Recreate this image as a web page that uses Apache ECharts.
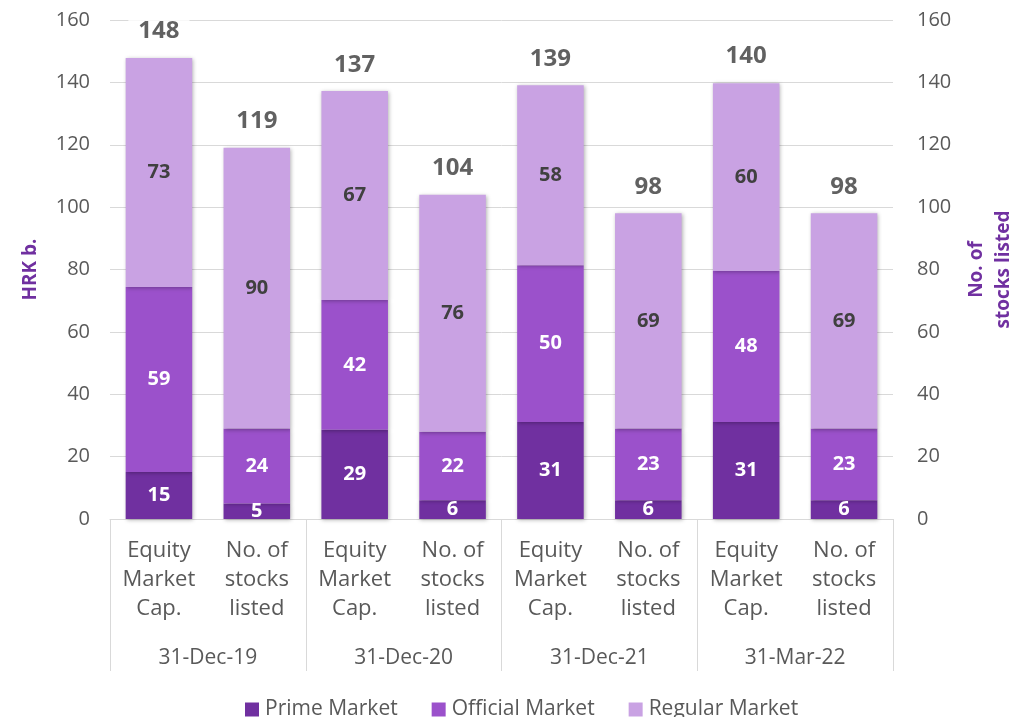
<!DOCTYPE html>
<html><head><meta charset="utf-8">
<script src="https://cdn.jsdelivr.net/npm/echarts@6/dist/echarts.min.js"></script>
<style>html,body{margin:0;padding:0;background:#fff}#c{width:1011px;height:717px}</style>
</head><body><div id="c"></div>
<script>
const innerCats = ['Equity\nMarket\nCap.','No. of\nstocks\nlisted','Equity\nMarket\nCap.','No. of\nstocks\nlisted','Equity\nMarket\nCap.','No. of\nstocks\nlisted','Equity\nMarket\nCap.','No. of\nstocks\nlisted'];
const dates = ['31-Dec-19','31-Dec-20','31-Dec-21','31-Mar-22'];
const prime = [15.1, 5, 28.6, 6, 31.1, 6, 31.1, 6];
const official = [59.3, 24, 41.6, 22, 50.3, 23, 48.4, 23];
const regular = [73.4, 90, 67.0, 76, 57.7, 69, 60.2, 69];
const totals = [148, 119, 137, 104, 139, 98, 140, 98];
const yTicks = [0, 20, 40, 60, 80, 100, 120, 140, 160];

const FONT = 'Open Sans';
const grey = '#595959';
const shadow = {shadowBlur: 4, shadowColor: 'rgba(0,0,0,0.3)', shadowOffsetX: 1, shadowOffsetY: 1};
function seg(name, data, color, txt) {
  return {
    name, type: 'bar', stack: 's', data, barCategoryGap: '32%',
    itemStyle: Object.assign({color}, shadow),
    label: {show: true, position: 'inside', color: txt, fontFamily: FONT, fontWeight: 'bold', fontSize: 20,
      formatter: p => Math.round(p.value)},
    emphasis: {disabled: true}
  };
}
const chart = echarts.init(document.getElementById('c'), null, {renderer: 'canvas'});
chart.setOption({
  animation: false,
  textStyle: {fontFamily: FONT},
  grid: {left: 110, right: 118, top: 20, bottom: 198, outerBoundsMode: 'none', containLabel: false},
  legend: {
    top: 694, left: 240, itemWidth: 14, itemHeight: 14, itemGap: 34, icon: 'rect',
    textStyle: {fontFamily: FONT, fontSize: 21, color: grey, padding: [0, 0, 0, 1]},
    data: ['Prime Market', 'Official Market', 'Regular Market']
  },
  xAxis: [
    {type: 'category', data: innerCats, position: 'bottom',
     axisLine: {show: false}, axisTick: {show: false},
     axisLabel: {interval: 0, margin: 17, color: grey, fontFamily: FONT, fontSize: 22, lineHeight: 29}},
    {type: 'category', data: dates, position: 'bottom',
     axisLine: {show: true, lineStyle: {color: '#D9D9D9', width: 1}},
     axisTick: {show: true, length: 152, lineStyle: {color: '#D9D9D9', width: 1}},
     axisLabel: {interval: 0, margin: 129, color: grey, fontFamily: FONT, fontSize: 21}}
  ],
  yAxis: [
    {type: 'value', min: yTicks[0], max: yTicks[yTicks.length - 1], interval: 20,
     name: 'HRK b.', nameLocation: 'middle', nameRotate: 90, nameGap: 70,
     nameTextStyle: {color: '#7030A0', fontWeight: 'bold', fontSize: 19, fontFamily: FONT},
     axisLine: {show: false}, axisTick: {show: false},
     splitLine: {lineStyle: {color: '#D9D9D9', width: 1}},
     axisLabel: {margin: 20, color: grey, fontFamily: FONT, fontSize: 20}},
    {type: 'value', min: yTicks[0], max: yTicks[yTicks.length - 1], interval: 20, position: 'right',
     name: 'No. of\nstocks listed', nameLocation: 'middle', nameRotate: 90, nameGap: 70,
     nameTextStyle: {color: '#7030A0', fontWeight: 'bold', fontSize: 19, fontFamily: FONT, lineHeight: 27},
     axisLine: {show: false}, axisTick: {show: false}, splitLine: {show: false},
     axisLabel: {margin: 24, color: grey, fontFamily: FONT, fontSize: 20}}
  ],
  series: [
    seg('Prime Market', prime, '#7030A0', '#ffffff'),
    seg('Official Market', official, '#9B51CB', '#ffffff'),
    seg('Regular Market', regular, '#C9A2E3', '#404040'),
    {name: 'Total', type: 'scatter', data: totals, symbolSize: 1,
     itemStyle: {color: 'rgba(0,0,0,0)'},
     label: {show: true, position: 'top', distance: 14, color: '#3a3a3a', fontFamily: FONT,
       fontWeight: 'bold', fontSize: 24, backgroundColor: '#ffffff', padding: [0, 10]},
     emphasis: {disabled: true}, z: 5}
  ]
});
</script></body></html>
